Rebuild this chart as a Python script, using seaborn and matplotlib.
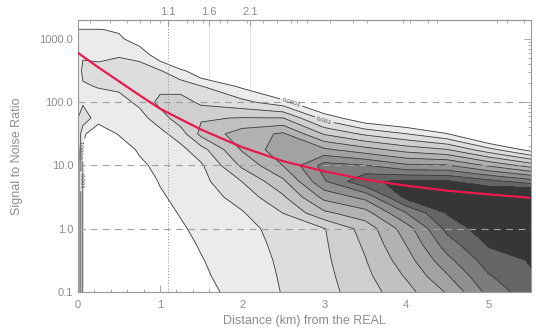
import numpy as np
import pandas as pd
import matplotlib
matplotlib.use("Agg")
import matplotlib.pyplot as plt
from matplotlib.ticker import MultipleLocator, FixedLocator
import seaborn as sns

# grid of the density map (level index per cell)
distance_km = [0, 0.06, 0.25, 0.5, 0.75, 1.0, 1.25, 1.5, 2.0, 2.5, 3.0, 3.5, 4.0, 4.5, 5.0, 5.55]
log_snr = [-1, -0.75, -0.5, -0.25, 0, 0.25, 0.5, 0.75, 1.0, 1.25, 1.5, 1.75,
           2.0, 2.25, 2.5, 2.75, 3.0, 3.15, 3.3]
density_level = [
    [3.5, 0.95, 0.2, -0.2, -0.3, 0.05, 0.35, 0.7, 1.35, 2.05, 2.65, 3.55, 4.65, 6.1, 8.3, 9.7],
    [3.5, 0.95, 0.2, -0.2, -0.3, 0.15, 0.45, 0.85, 1.45, 2.1, 2.72, 3.75, 5.1, 6.9, 8.9, 9.95],
    [3.5, 0.95, 0.2, -0.2, -0.3, 0.3, 0.6, 0.95, 1.55, 2.15, 2.8, 3.95, 5.55, 7.7, 9.5, 10.1],
    [3.5, 0.95, 0.2, -0.2, -0.2, 0.45, 0.75, 1.075, 1.65, 2.22, 2.87, 4.15, 6.02, 8.5, 10.1, 10.6],
    [3.5, 0.95, 0.2, -0.2, -0.1, 0.6, 0.9, 1.2, 1.75, 2.3, 2.95, 4.4, 6.5, 9.3, 10.6, 11.0],
    [3.5, 0.95, 0.2, -0.1, 0.1, 0.75, 1.05, 1.35, 1.92, 3.02, 4.8, 5.6, 8.0, 10.1, 11.0, 11.4],
    [3.5, 0.95, 0.2, 0.0, 0.35, 0.9, 1.2, 1.5, 2.4, 3.85, 6.3, 7.3, 10.3, 11.0, 11.5, 12.4],
    [3.5, 0.95, 0.2, 0.1, 0.6, 1.05, 1.35, 1.7, 3.02, 4.8, 7.9, 9.85, 10.2, 10.1, 9.33, 8.4],
    [3.5, 0.95, 0.2, 0.3, 0.85, 1.2, 1.5, 1.85, 4.2, 6.02, 8.4, 8.05, 7.2, 7.1, 5.86, 4.5],
    [3.5, 0.95, 0.2, 0.6, 1.1, 1.4, 1.7, 2.6, 5.1, 6.7, 6.2, 5.4, 4.6, 4.05, 2.39, 0.5],
    [3.0, 1.1, 0.6, 1.05, 1.35, 1.7, 2.5, 4.3, 5.5, 6.15, 3.9, 2.8, 2.02, 1.05, -1.1, -2],
    [2.0, 2.8, 1.25, 1.3, 1.65, 2.5, 3.6, 3.9, 4.05, 4.02, 1.64, 0.15, -0.5, -1.5, -3, -3],
    [1.5, 1.8, 1.6, 1.65, 2.2, 3.3, 3.5, 2.78, 2.3, 1.4, -0.65, -1.5, -2, -3, -3, -3],
    [1.5, 1.9, 2.05, 2.2, 2.8, 2.7, 2.5, 2.06, 0.82, -1.1, -2, -3, -3, -3, -3, -3],
    [1.5, 2.2, 2.3, 2.5, 2.4, 2.05, 1.3, 0.02, -1, -2, -3, -3, -3, -3, -3, -3],
    [1.5, 1.9, 1.75, 1.9, 1.7, 0.3, -2.4, -1.5, -2, -3, -3, -3, -3, -3, -3, -3],
    [1.2, 1.3, 1.3, 1.2, 0.4, -2, -3, -3, -3, -3, -3, -3, -3, -3, -3, -3],
    [1.05, 1.05, 1.05, 0.85, -1.5, -3, -3, -3, -3, -3, -3, -3, -3, -3, -3, -3],
    [-1, -1, -1, -1, -2, -3, -3, -3, -3, -3, -3, -3, -3, -3, -3, -3],
]
contour_levels = [1, 2, 3, 4, 5, 6, 7, 8, 9, 10]
contour_labels = ["0.0001", "0.001", "0.002", "0.003", "0.004",
                  "0.005", "0.006", "0.007", "0.008", "0.01"]
band_colors = ["#ebebeb", "#dddddd", "#cfcfcf", "#c1c1c1", "#b2b2b2",
               "#a2a2a2", "#909090", "#7c7c7c", "#656565", "#363636"]

# red fit curve
fit_distance = [0, 0.25, 0.5, 0.75, 1.0, 1.25, 1.5, 2.0, 2.5, 3.0, 3.5, 4.0, 4.5, 5.0, 5.5]
fit_snr = [603, 355, 214, 129, 79, 54, 37, 19.5, 11.7, 8.1, 6.0, 4.8, 4.0, 3.5, 3.1]

snr_ticks = [0.1, 1, 10, 100, 1000]
snr_tick_labels = ["0.1", "1.0", "10.0", "100.0", "1000.0"]
snr_dashed = [1, 10, 100]
top_ticks = [1.1, 1.6, 2.1]
top_tick_labels = ["1.1", "1.6", "2.1"]
top_minor_ticks = [0.15, 0.39, 0.6, 0.76, 0.88, 1.0, 1.33, 1.4, 1.52, 1.73, 1.82,
                   2.06, 2.26, 2.43, 2.59, 2.67, 2.79, 3.07, 3.35, 3.52, 3.96,
                   4.05, 4.26, 4.38, 5.11, 5.23, 5.43]

grey = "#8c8c8c"
sns.set_style("ticks")
plt.rcParams["font.family"] = ["Liberation Sans", "DejaVu Sans"]

fig = plt.figure(figsize=(5.36, 3.33), dpi=100)
ax = fig.add_axes([0.1455, 0.1231, 0.8452, 0.8168])

# faint marker lines behind the map
for xv in top_ticks[1:]:
    ax.axvline(xv, color="#e2e2e2", lw=0.6, zorder=0)

Z = np.array(density_level)
ax.contourf(distance_km, log_snr, Z, levels=contour_levels + [99],
            colors=band_colors, zorder=1)
cs = ax.contour(distance_km, log_snr, Z, levels=contour_levels,
                colors="#3c3c3c", linewidths=0.6, zorder=2)
ax.clabel(cs, levels=[1, 2], fmt=dict(zip(contour_levels, contour_labels)),
          fontsize=4.5, colors="#555555", inline_spacing=2)

for s in snr_dashed:
    ax.axhline(np.log10(s), color="#a0a0a0", lw=0.8, ls=(0, (6, 5)), zorder=3)
ax.axvline(top_ticks[0], color="#8a8a8a", lw=0.7, ls=(0, (1, 2)), zorder=3)

fit = pd.DataFrame({"distance": fit_distance, "lsnr": np.log10(fit_snr)})
sns.lineplot(data=fit, x="distance", y="lsnr", color="#e8194f", lw=1.6,
             ax=ax, zorder=4)

ax.set_xlim(0, 5.52)
ax.set_ylim(-1, 3.3)
ax.set_yticks(np.log10(snr_ticks))
ax.set_yticklabels(snr_tick_labels)
minor = [np.log10(d * m) for d in snr_ticks for m in range(2, 10) if d * m < 2000]
ax.yaxis.set_minor_locator(FixedLocator(minor))
ax.set_xticks(range(6))
ax.xaxis.set_minor_locator(MultipleLocator(0.2))

ax.tick_params(which="both", direction="in", color="#9a9a9a", labelcolor=grey,
               labelsize=8, top=False, right=True, width=0.6)
ax.tick_params(which="major", length=5)
ax.tick_params(which="minor", length=2.5)
ax.tick_params(axis="x", pad=6)

sec = ax.secondary_xaxis("top")
sec.set_xticks(top_ticks)
sec.set_xticklabels(top_tick_labels)
sec.xaxis.set_minor_locator(FixedLocator(top_minor_ticks))
sec.tick_params(which="both", direction="in", color="#9a9a9a", labelcolor=grey,
                labelsize=8, width=0.6, pad=2)
sec.tick_params(which="major", length=4)
sec.tick_params(which="minor", length=2.5)

for sp in list(ax.spines.values()) + list(sec.spines.values()):
    sp.set_color("#9a9a9a")
    sp.set_linewidth(0.8)

ax.set_xlabel("Distance (km) from the REAL", color=grey, fontsize=9, labelpad=3)
ax.set_ylabel("Signal to Noise Ratio", color=grey, fontsize=9, labelpad=12)

fig.savefig("out.png", dpi=100)
